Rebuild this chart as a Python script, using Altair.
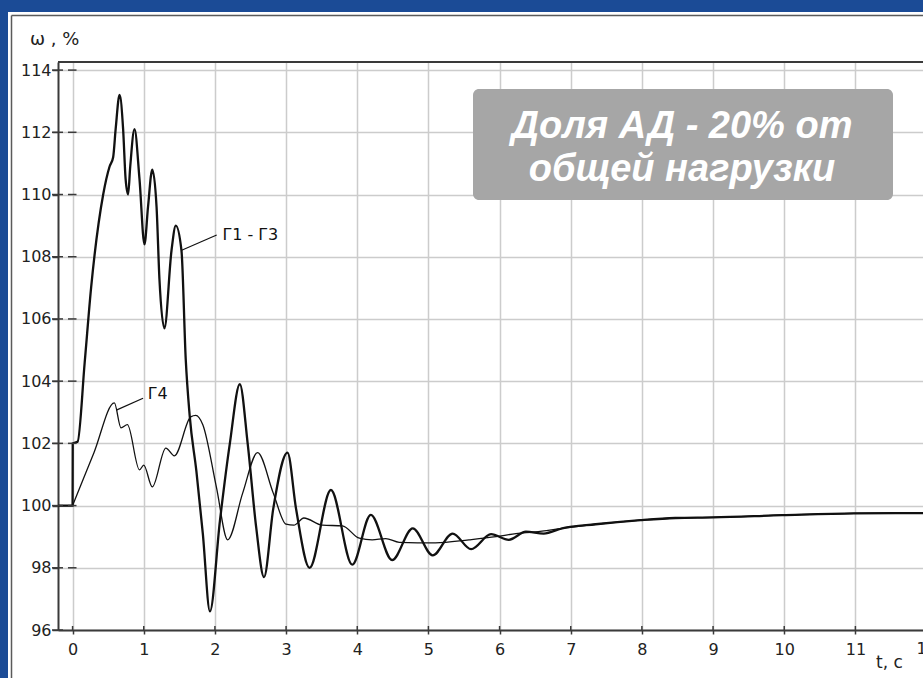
import altair as alt
import pandas as pd

# ---------------- data ----------------
T_G1G3 = [-0.2, 0.0, 0.002, 0.07, 0.17, 0.26, 0.43, 0.52, 0.57, 0.605, 0.66, 0.71,
          0.745, 0.78, 0.81, 0.87, 0.94, 1.01, 1.06, 1.12, 1.18, 1.22, 1.29, 1.39,
          1.45, 1.53, 1.59, 1.645, 1.74, 1.83, 1.93, 2.07, 2.21, 2.35, 2.46, 2.58,
          2.69, 2.82, 3.02, 3.14, 3.33, 3.63, 3.93, 4.19, 4.49, 4.78, 5.06, 5.34,
          5.6, 5.88, 6.13, 6.37, 6.62, 6.88, 7.35, 7.98, 8.47, 9.0, 9.97, 10.98, 11.95]
W_G1G3 = [100.0, 100.0, 102.0, 102.05, 104.6, 107.0, 110.0, 110.9, 111.2, 112.1, 113.2, 112.1,
          110.5, 110.0, 110.9, 112.1, 110.5, 108.4, 109.6, 110.8, 109.6, 107.3, 105.7, 108.2,
          109.0, 108.2, 104.7, 102.9, 101.1, 99.1, 96.6, 99.5, 102.0, 103.9, 102.0, 99.3,
          97.7, 99.9, 101.7, 99.9, 98.0, 100.5, 98.1, 99.7, 98.25, 99.27, 98.4, 99.1,
          98.6, 99.08, 98.9, 99.16, 99.1, 99.27, 99.4, 99.53, 99.6, 99.62, 99.69, 99.75, 99.76]

T_G4 = [-0.2, 0.0, 0.01, 0.3, 0.587, 0.68, 0.77, 0.94, 1.0, 1.12, 1.31, 1.43, 1.66, 1.73,
        1.83, 2.02, 2.18, 2.39, 2.6, 2.82, 3.0, 3.11, 3.25, 3.51, 3.79, 4.03, 4.21,
        4.4, 4.59, 5.1, 5.57, 5.95, 6.23, 6.5, 6.88, 7.35, 7.98, 8.47, 9.0, 9.97,
        10.98, 11.95]
W_G4 = [100.0, 100.0, 100.056, 101.7, 103.3, 102.5, 102.6, 101.15, 101.3, 100.6, 101.85, 101.6, 102.85, 102.9,
        102.6, 100.6, 98.9, 100.4, 101.7, 100.4, 99.4, 99.37, 99.6, 99.37, 99.35, 98.95, 98.9,
        98.94, 98.82, 98.8, 98.9, 99.0, 99.1, 99.15, 99.27, 99.4, 99.53, 99.6, 99.62, 99.69,
        99.75, 99.76]

X_TICKS = [0, 1, 2, 3, 4, 5, 6, 7, 8, 9, 10, 11, 12]
Y_TICKS = [96, 98, 100, 102, 104, 106, 108, 110, 112, 114]

CURVE_LABELS = ["Г1 - Г3", "Г4"]
LABEL_T = [2.106, 1.055]
LABEL_W = [108.70, 103.6]
LEADER_T1 = [1.533, 0.615]
LEADER_W1 = [108.21, 103.07]
LEADER_T2 = [2.025, 0.99]
LEADER_W2 = [108.70, 103.45]

Y_TITLE = "ω , %"
X_TITLE = "t, c"
NOTE_LINES = ["Доля АД - 20% от", "общей нагрузки"]

# ---------------- layout / style ----------------
W, H = 865, 568
BLUE = "#1b4b96"
INK = "#111111"
AXIS_INK = "#3a3a3a"
GRID = "#cccccc"
FONT = "DejaVu Sans"

xs = alt.Scale(domain=[-0.205, 11.95], nice=False, zero=False)
ys = alt.Scale(domain=[96, 114.26], nice=False, zero=False)

x_axis = alt.Axis(values=X_TICKS[:-1], format="d", title=None, grid=True, gridColor=GRID, gridWidth=1.5,
                  domainColor=AXIS_INK, domainWidth=2, tickColor=AXIS_INK, tickWidth=1.5,
                  tickSize=4, labelPadding=7, labelFont=FONT, labelFontSize=16,
                  labelColor="#222", labelBound=False, labelOverlap=False, labelFlush=False)
y_axis = alt.Axis(values=Y_TICKS, format="d", title=None, grid=True, gridColor=GRID, gridWidth=1.5,
                  domainColor=AXIS_INK, domainWidth=2, tickColor=AXIS_INK, tickWidth=1.5,
                  tickSize=6, labelPadding=1, labelFont=FONT, labelFontSize=16,
                  labelColor="#222", labelOverlap=False)

dummy = pd.DataFrame({"d": [0]})


def deco_rect(x, x2, y, y2, color, **kw):
    return alt.Chart(dummy).mark_rect(color=color, **kw).encode(
        x=alt.value(x), x2=alt.value(x2), y=alt.value(y), y2=alt.value(y2))


def deco_rule(x, x2, y, y2, color, width):
    return alt.Chart(dummy).mark_rule(color=color, strokeWidth=width).encode(
        x=alt.value(x), x2=alt.value(x2), y=alt.value(y), y2=alt.value(y2))


# blue border and inner frame (in the padding area)
blue_left = deco_rect(-58, -50, -62, H + 48, BLUE)
blue_top = deco_rect(-58, W, -62, -50, BLUE)
frame_v = deco_rule(-46.5, -46.5, -46.5, H + 48, "#5a5a5a", 1.5)
frame_h = deco_rule(-46.5, W, -46.5, -46.5, "#5a5a5a", 1.5)
top_line = deco_rule(0, W, 0, 0, AXIS_INK, 2)

df_main = pd.DataFrame({"t": T_G1G3, "w": W_G1G3})
df_g4 = pd.DataFrame({"t": T_G4, "w": W_G4})

main = alt.Chart(df_main).mark_line(color=INK, strokeWidth=2.3, interpolate="monotone").encode(
    x=alt.X("t:Q", scale=xs, axis=x_axis),
    y=alt.Y("w:Q", scale=ys, axis=y_axis),
)
g4 = alt.Chart(df_g4).mark_line(color=INK, strokeWidth=1.3, interpolate="monotone").encode(
    x=alt.X("t:Q", scale=xs),
    y=alt.Y("w:Q", scale=ys),
)

df_yt = pd.DataFrame({"v": Y_TICKS})
df_xt = pd.DataFrame({"v": X_TICKS[:-1]})
y_cross = alt.Chart(df_yt).mark_rule(color=AXIS_INK, strokeWidth=1.5).encode(
    x=alt.value(-6), x2=alt.value(5), y=alt.Y("v:Q", scale=ys))
y_inner = alt.Chart(df_yt[df_yt.v > 96]).mark_rule(color=AXIS_INK, strokeWidth=1.5).encode(
    x=alt.X(datum=-0.065, scale=xs), x2=alt.X2(datum=0.055), y=alt.Y("v:Q", scale=ys))
x_cross = alt.Chart(df_xt).mark_rule(color=AXIS_INK, strokeWidth=1.5).encode(
    x=alt.X("v:Q", scale=xs), y=alt.value(H - 4), y2=alt.value(H))

# last x tick label, which falls partly outside the picture
df_last = pd.DataFrame({"v": X_TICKS[-1:]})
last_label = alt.Chart(df_last).mark_text(font=FONT, fontSize=16, color="#222", align="center",
                                          baseline="top").encode(
    x=alt.X("v:Q", scale=xs), y=alt.value(H + 11), text=alt.Text("v:Q", format="d"))

df_lab = pd.DataFrame({"lab": CURVE_LABELS, "t": LABEL_T, "w": LABEL_W,
                       "t1": LEADER_T1, "w1": LEADER_W1, "t2": LEADER_T2, "w2": LEADER_W2})
leaders = alt.Chart(df_lab).mark_rule(color=INK, strokeWidth=1.2).encode(
    x=alt.X("t1:Q", scale=xs), x2="t2:Q", y=alt.Y("w1:Q", scale=ys), y2="w2:Q")
labels = alt.Chart(df_lab).mark_text(font=FONT, fontSize=16, color=INK, align="left",
                                     baseline="middle").encode(
    x=alt.X("t:Q", scale=xs), y=alt.Y("w:Q", scale=ys), text="lab:N")

note_box = deco_rect(415, 835, 27, 138, "#a6a6a6", cornerRadius=6)
note_text = alt.Chart(dummy).mark_text(font="Liberation Sans", fontSize=38, fontWeight="bold",
                                       fontStyle="italic", color="white", align="center",
                                       baseline="alphabetic", lineHeight=43).encode(
    x=alt.value(624), y=alt.value(76), text=alt.value(NOTE_LINES))

y_title = alt.Chart(dummy).mark_text(font=FONT, fontSize=18, color="#222", align="left",
                                     baseline="middle").encode(
    x=alt.value(-28), y=alt.value(-22), text=alt.value(Y_TITLE))
x_title = alt.Chart(dummy).mark_text(font=FONT, fontSize=17, color="#222", align="left",
                                     baseline="middle").encode(
    x=alt.value(818), y=alt.value(601), text=alt.value(X_TITLE))

chart = alt.layer(
    blue_left, blue_top, frame_v, frame_h,
    note_box, note_text,
    main, g4, y_cross, y_inner, x_cross, last_label, top_line, leaders, labels, y_title, x_title,
).properties(
    width=W, height=H,
    background="white",
    padding={"left": 58, "top": 62, "right": 0, "bottom": 48},
    autosize=alt.AutoSizeParams(type="none"),
).configure_view(stroke=None)

chart.save("out.html", embed_options={"renderer": "svg", "actions": False})
